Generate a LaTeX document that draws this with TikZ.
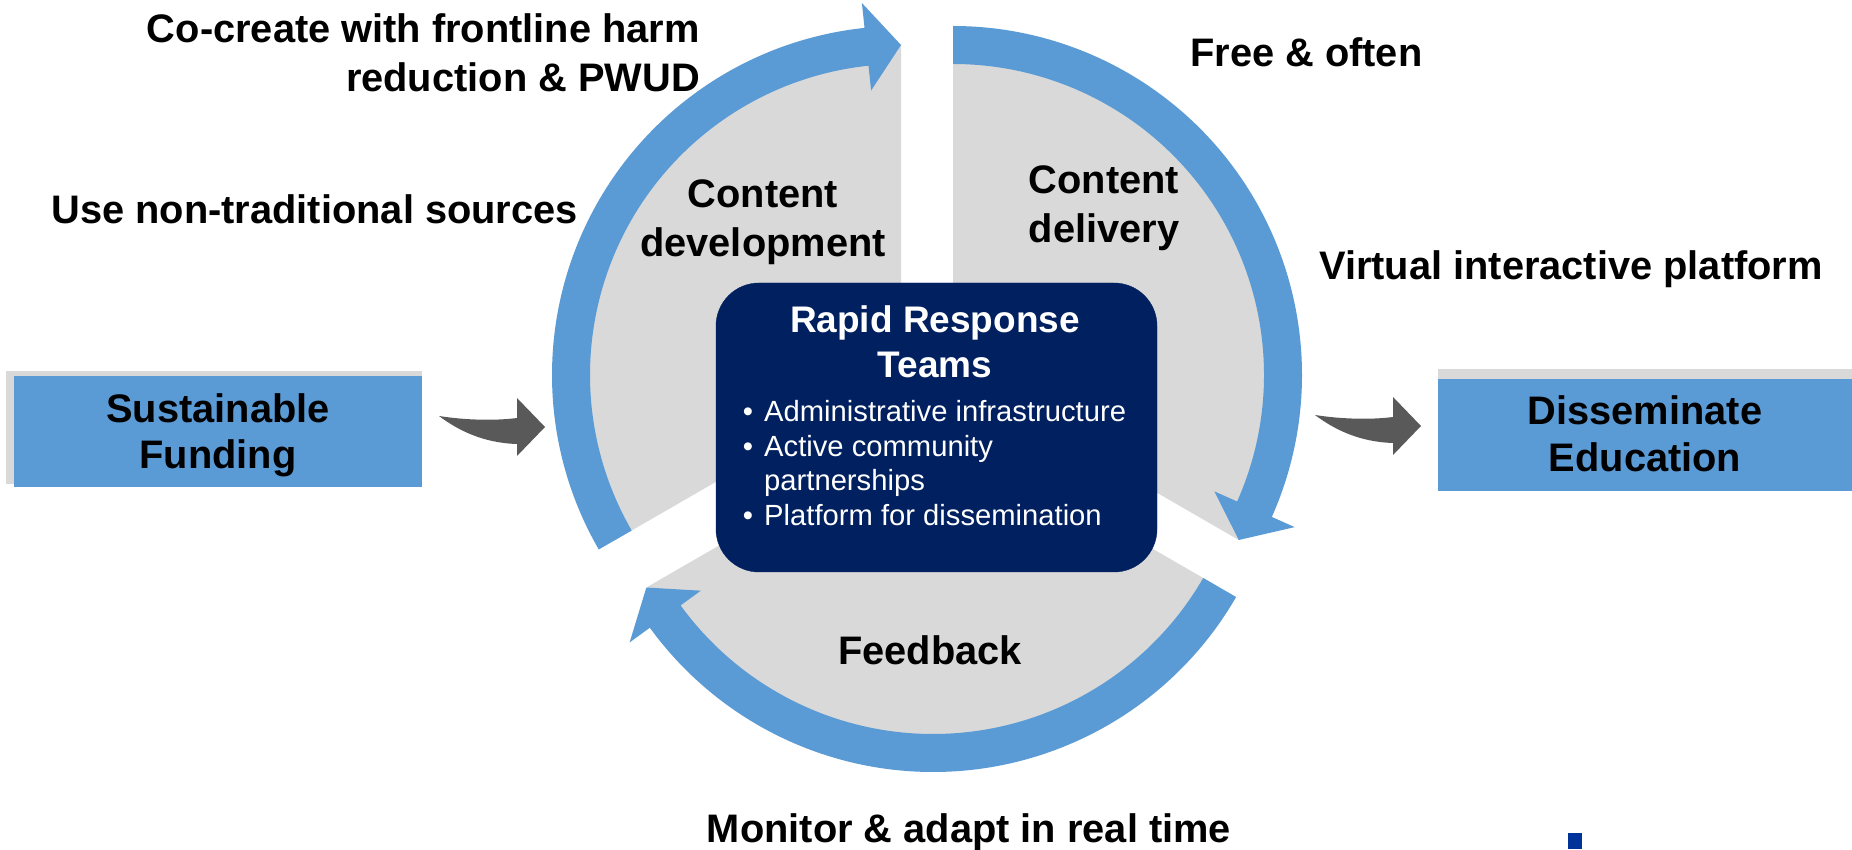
\documentclass[tikz,border=0pt]{standalone}
\usepackage{fontspec}
\setmainfont{Liberation Sans}
\usetikzlibrary{calc}
\definecolor{cblue}{HTML}{5B9BD5}
\definecolor{cgray}{HTML}{D9D9D9}
\definecolor{cnavy}{HTML}{002060}
\definecolor{cdark}{HTML}{595959}
\definecolor{cmark}{HTML}{003399}
\tikzset{
  lbl/.style={font=\fontsize{39.8}{47}\selectfont\bfseries, inner sep=0pt, text=black},
  ttl/.style={font=\fontsize{37}{44}\selectfont\bfseries, inner sep=0pt, text=white},
  bul/.style={font=\fontsize{29.2}{34}\selectfont, inner sep=0pt, text=white},
  bentarrow/.pic={
    \fill[cdark] (0,0) .. controls (25,-4) and (55,-5) .. (78,-2) -- (78,18) -- (106,-11)
      -- (78,-40) -- (78,-28) .. controls (45,-27) and (20,-15) .. (0,0) -- cycle;
  }
}
\begin{document}
\begin{tikzpicture}[x=1pt,y=1pt]
\useasboundingbox (0,0) rectangle (1852,849);
\fill[white] (0,0) rectangle (1852,849);

% sector centres
\coordinate (L) at (901,474);
\coordinate (R) at (953,474);
\coordinate (F) at (933,427);

% gray sectors
\fill[cgray] (L) -- ++(90:330pt) arc[start angle=90, end angle=210, radius=330pt] -- cycle;
\fill[cgray] (R) -- ++(-30:330pt) arc[start angle=-30, end angle=90, radius=330pt] -- cycle;
\fill[cgray] (F) -- ++(210:330pt) arc[start angle=210, end angle=330, radius=330pt] -- cycle;

% blue circular arrows
\begin{scope}[shift={(L)}]
\fill[cblue] (210:349pt) arc[start angle=210, end angle=96, radius=349pt] -- (96:374pt) -- (90:330pt)
  -- (96:286pt) -- (96:311pt) arc[start angle=96, end angle=210, radius=311pt] -- cycle;
\end{scope}
\begin{scope}[shift={(R)}]
\fill[cblue] (90:349pt) arc[start angle=90, end angle=-24, radius=349pt] -- (-24:374pt) -- (-30:330pt)
  -- (-24:286pt) -- (-24:311pt) arc[start angle=-24, end angle=90, radius=311pt] -- cycle;
\end{scope}
\begin{scope}[shift={(F)}]
\fill[cblue] (330:350pt) arc[start angle=330, end angle=216, radius=350pt] -- (216:375pt) -- (210:331pt)
  -- (216:287pt) -- (216:312pt) arc[start angle=216, end angle=330, radius=312pt] -- cycle;
\end{scope}

% centre box
\node[fill=cnavy, draw=cnavy, rounded corners=43pt, minimum width=441pt, minimum height=289pt, inner sep=0pt] (rrt) at (936.5,421.5) {};
\node[ttl, anchor=base] (rr1) at (935,516) {Rapid Response};
\node[ttl, anchor=base] (rr2) at (935,471) {Teams};
\node[bul, anchor=base] (d1) at (748,427) {•};
\node[bul, anchor=base west] (b1) at (764,427) {Administrative infrastructure};
\node[bul, anchor=base] (d2) at (748,392) {•};
\node[bul, anchor=base west] (b2) at (764,392) {Active community};
\node[bul, anchor=base west] (b2b) at (764,358) {partnerships};
\node[bul, anchor=base] (d3) at (748,323) {•};
\node[bul, anchor=base west] (b3) at (764,323) {Platform for dissemination};

% side boxes
\fill[cgray] (6,365) rectangle (422,478);
\node[fill=cblue, minimum width=408pt, minimum height=111pt, inner sep=0pt] (sfbox) at (218,417.5) {};
\fill[cgray] (1438,369) rectangle (1852,480);
\node[fill=cblue, minimum width=414pt, minimum height=112pt, inner sep=0pt] (debox) at (1645,414) {};

% bent arrows
\pic at (439,433) {bentarrow};
\pic at (1315,434) {bentarrow};

% labels
\node[lbl, anchor=base east] (cc1) at (700,806) {Co-create with frontline harm};
\node[lbl, anchor=base east] (cc2) at (700,757) {reduction \& PWUD};
\node[lbl, anchor=base east] (nts) at (578,625) {Use non-traditional sources};
\node[lbl, anchor=base] (cd1) at (763,641) {Content};
\node[lbl, anchor=base] (cd2) at (763,592) {development};
\node[lbl, anchor=base west] (fo) at (1190,782) {Free \& often};
\node[lbl, anchor=base] (cdl1) at (1104,655) {Content};
\node[lbl, anchor=base] (cdl2) at (1104,606) {delivery};
\node[lbl, anchor=base west] (vip) at (1319,569) {Virtual interactive platform};
\node[lbl, anchor=base] (fb) at (930,184) {Feedback};
\node[lbl, anchor=base] (mon) at (969,7) {Monitor \& adapt in real time};
\node[lbl, anchor=base] (sf1) at (218,426) {Sustainable};
\node[lbl, anchor=base] (sf2) at (218,380) {Funding};
\node[lbl, anchor=base] (de1) at (1645,424) {Disseminate};
\node[lbl, anchor=base] (de2) at (1645,377) {Education};

% small mark
\fill[cmark] (1568,0) rectangle (1582,16);
\end{tikzpicture}
\end{document}
